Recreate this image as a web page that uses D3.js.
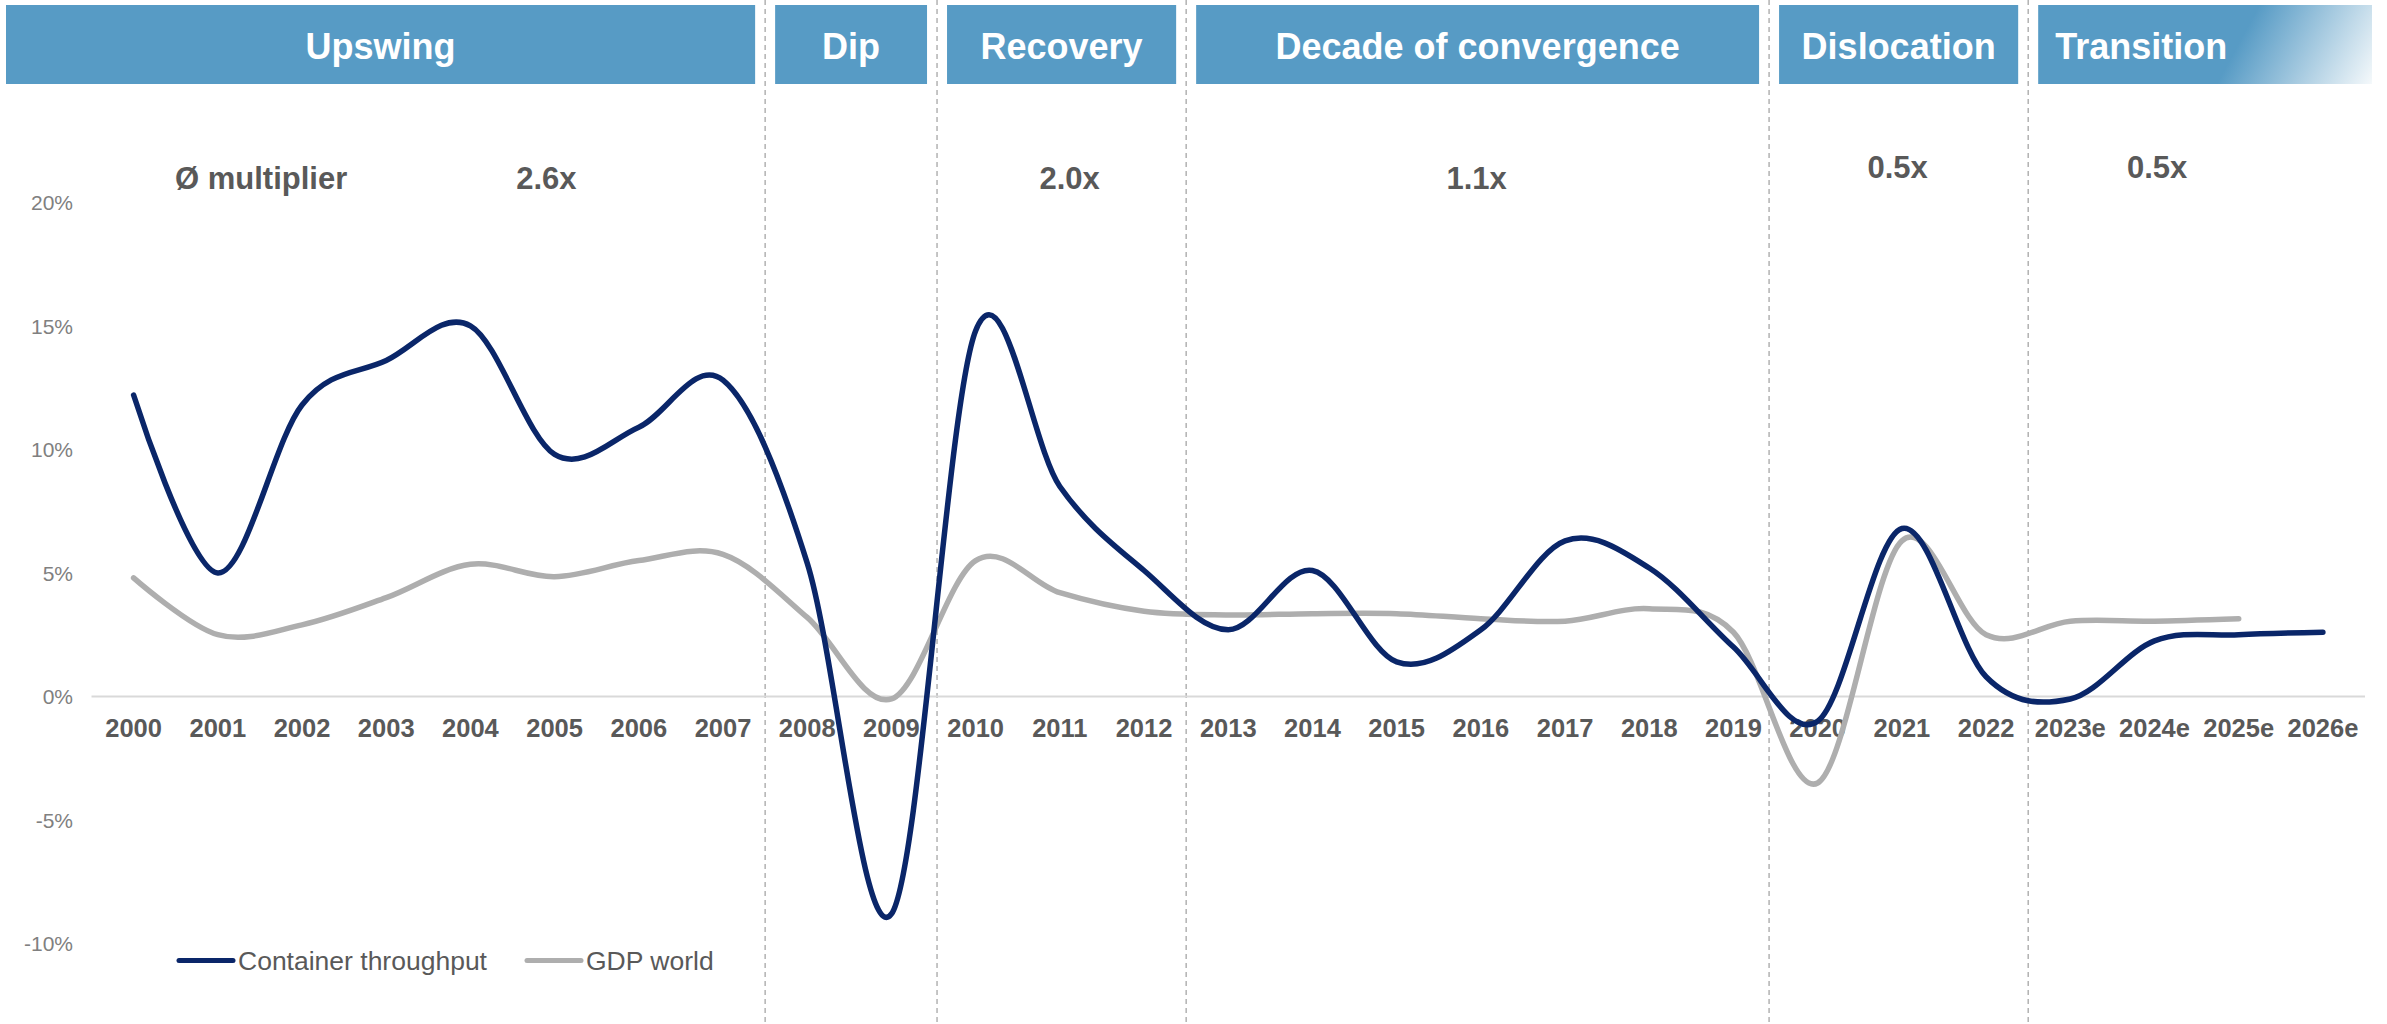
<!DOCTYPE html>
<html><head><meta charset="utf-8">
<script src="https://cdn.jsdelivr.net/npm/d3@7"></script>
<style>body{margin:0;background:#fff}svg{display:block}</style>
</head><body><svg id="c" width="2387" height="1024"></svg>
<script>
// ---------- DATA ----------
const categories = ["2000","2001","2002","2003","2004","2005","2006","2007","2008","2009","2010","2011","2012","2013","2014","2015","2016","2017","2018","2019","2020","2021","2022","2023e","2024e","2025e","2026e"];
const containerThroughput = [12.2, 5.0, 11.8, 13.6, 15.0, 9.8, 10.9, 12.8, 5.4, -8.8, 14.8, 8.5, 5.1, 2.7, 5.1, 1.4, 2.7, 6.3, 5.2, 2.0, -1.0, 6.8, 0.8, -0.1, 2.25, 2.5, 2.6];
const gdpWorld = [4.8, 2.5, 2.9, 4.0, 5.35, 4.85, 5.5, 5.75, 3.2, -0.1, 5.5, 4.2, 3.45, 3.3, 3.35, 3.35, 3.15, 3.05, 3.55, 2.6, -3.5, 6.3, 2.5, 3.05, 3.05, 3.15, null];
const yTicks = [-10, -5, 0, 5, 10, 15, 20];
const phaseNames = ["Upswing", "Dip", "Recovery", "Decade of convergence", "Dislocation", "Transition"];
const phaseStarts = ["2000", "2008", "2010", "2013", "2020", "2023e"];
const multipliers = ["2.6x", "", "2.0x", "1.1x", "0.5x", "0.5x"];
const multiplierTitle = "Ø multiplier";
const seriesNames = ["Container throughput", "GDP world"];

// ---------- LAYOUT ----------
const FONT = "'Liberation Sans', Arial, sans-serif";
const navy = "#0A2669", grey = "#AEAEAE", boxBlue = "#579BC5", textGrey = "#595959";
const svg = d3.select("#c");

const x = d3.scaleBand().domain(categories).range([91.5, 2365]).paddingInner(0).paddingOuter(0);
const bw = x.bandwidth();
const cx = c => x(c) + bw / 2;
const dividerShift = [0, 0, 3.5, 0, -6.5, 0];
const boundaryAt = idx => (idx >= categories.length ? x.range()[1] : x(categories[idx]));
const y = d3.scaleLinear().domain([-10, 20]).range([943.6, 202.3]);

const defs = svg.append("defs");

// phases
const n = phaseNames.length;
phaseNames.forEach((name, i) => {
  const sIdx = categories.indexOf(phaseStarts[i]);
  const eIdx = i < n - 1 ? categories.indexOf(phaseStarts[i + 1]) : categories.length;
  const leftB = boundaryAt(sIdx) + dividerShift[i];
  const rightB = boundaryAt(eIdx) + (i < n - 1 ? dividerShift[i + 1] : 0);
  const bx0 = i === 0 ? 6 : leftB + 10;
  const bx1 = i === n - 1 ? 2372 : rightB - 10;
  const by0 = 5, by1 = 84;
  let fill = boxBlue;
  if (i === n - 1) {
    const g = defs.append("linearGradient").attr("id", "fade").attr("gradientUnits", "userSpaceOnUse")
      .attr("x1", bx1 - 120).attr("y1", by0 + 14).attr("x2", bx1).attr("y2", by1);
    g.append("stop").attr("offset", 0).attr("stop-color", boxBlue);
    g.append("stop").attr("offset", 1).attr("stop-color", "#F5F9FB");
    fill = "url(#fade)";
  }
  svg.append("rect").attr("x", bx0).attr("y", by0).attr("width", bx1 - bx0).attr("height", by1 - by0).attr("fill", fill);
  const last = i === n - 1;
  svg.append("text").attr("x", last ? bx0 + 17 : (bx0 + bx1) / 2).attr("y", 59)
    .attr("text-anchor", last ? "start" : "middle")
    .attr("font-family", FONT).attr("font-weight", "bold").attr("font-size", 36).attr("fill", "#fff")
    .text(name);
  if (i > 0) {
    svg.append("line").attr("x1", leftB).attr("x2", leftB).attr("y1", 0).attr("y2", 1024)
      .attr("stroke", "#A6A6A6").attr("stroke-width", 1.3).attr("stroke-dasharray", "5,4");
  }
  const adj = [118, 0, 8, -1, -1, -39.5][i];
  const mBase = i >= 4 ? 178 : 189;
  if (multipliers[i]) {
    svg.append("text").attr("x", (leftB + rightB) / 2 + adj).attr("y", mBase).attr("text-anchor", "middle")
      .attr("font-family", FONT).attr("font-weight", "bold").attr("font-size", 31).attr("fill", textGrey)
      .text(multipliers[i]);
  }
});
svg.append("text").attr("x", 175).attr("y", 189).attr("font-family", FONT).attr("font-weight", "bold")
  .attr("font-size", 31).attr("fill", textGrey).text(multiplierTitle);

// zero line
svg.append("line").attr("x1", x.range()[0]).attr("x2", x.range()[1]).attr("y1", y(0)).attr("y2", y(0))
  .attr("stroke", "#D9D9D9").attr("stroke-width", 2);

// y axis
const yAxis = svg.append("g").attr("transform", "translate(73,0)")
  .call(d3.axisLeft(y).tickValues(yTicks).tickFormat(d => d + "%").tickSize(0).tickPadding(0));
yAxis.select(".domain").remove();
yAxis.selectAll("text").attr("font-family", FONT).attr("font-size", 21).attr("fill", "#808080").attr("dy", "0.35em");

// x axis
const xAxis = svg.append("g").attr("transform", "translate(0,737)")
  .call(d3.axisBottom(x).tickSize(0).tickPadding(0));
xAxis.select(".domain").remove();
xAxis.selectAll("text").attr("y", 0).attr("dy", 0).attr("font-family", FONT).attr("font-weight", "bold")
  .attr("font-size", 25.5).attr("fill", textGrey);

// lines
const line = d3.line().defined(d => d[1] != null).x(d => cx(d[0])).y(d => y(d[1])).curve(d3.curveCardinal.tension(0));
const series = [
  { vals: gdpWorld, color: grey },
  { vals: containerThroughput, color: navy }
];
series.forEach(s => {
  svg.append("path").datum(categories.map((c, i) => [c, s.vals[i]]))
    .attr("d", line).attr("fill", "none").attr("stroke", s.color).attr("stroke-width", 5.5)
    .attr("stroke-linecap", "round").attr("stroke-linejoin", "round");
});

// legend
const legendItems = [
  { name: seriesNames[0], color: navy, x0: 179 },
  { name: seriesNames[1], color: grey, x0: 527 }
];
legendItems.forEach(it => {
  svg.append("line").attr("x1", it.x0).attr("x2", it.x0 + 54).attr("y1", 960.5).attr("y2", 960.5)
    .attr("stroke", it.color).attr("stroke-width", 5).attr("stroke-linecap", "round");
  svg.append("text").attr("x", it.x0 + 59).attr("y", 969.5).attr("font-family", FONT).attr("font-size", 26.5)
    .attr("fill", textGrey).text(it.name);
});
</script>
</body></html>
